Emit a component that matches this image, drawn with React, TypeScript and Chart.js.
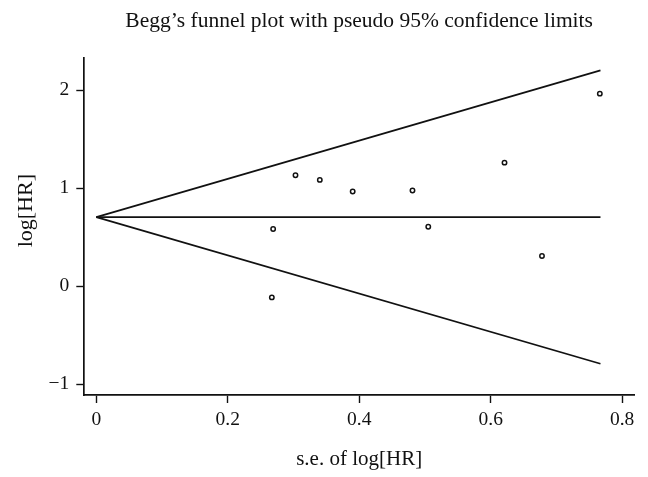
import React, { useEffect, useRef } from 'react';
import { Chart, registerables } from 'chart.js';

Chart.register(...registerables);

// Study estimates (s.e. of log[HR], log[HR])
const studySE = [0.267, 0.269, 0.303, 0.340, 0.390, 0.481, 0.505, 0.621, 0.678, 0.766];
const studyLogHR = [-0.115, 0.583, 1.132, 1.085, 0.966, 0.977, 0.607, 1.261, 0.308, 1.966];

// Pseudo 95% confidence limits and pooled estimate
const limitSE = [0, 0.767];
const pooledLogHR = [0.705, 0.705];
const upperLimit = [0.705, 2.204];
const lowerLimit = [0.705, -0.793];

// Axes
const xTicks = [0, 0.2, 0.4, 0.6, 0.8];
const yTicks = [-1, 0, 1, 2];
const titleText = 'Begg\u2019s funnel plot with pseudo 95% confidence limits';
const xTitle = 's.e. of log[HR]';
const yTitle = 'log[HR]';

const FONT = '"Liberation Serif", "DejaVu Serif", serif';
const INK = '#111111';

const toXY = (xs: number[], ys: number[]) => xs.map((x, i) => ({ x, y: ys[i] }));

const textPlugin = {
  id: 'customTexts',
  afterDraw(chart: any) {
    const { ctx, chartArea } = chart;
    ctx.save();
    ctx.fillStyle = INK;
    ctx.font = `21.5px ${FONT}`;
    ctx.textAlign = 'center';
    ctx.textBaseline = 'middle';
    ctx.fillText(titleText, (chartArea.left + chartArea.right) / 2, 21.5);
    ctx.font = `22px ${FONT}`;
    ctx.translate(26.7, chartArea.top + (chartArea.bottom - chartArea.top) * 0.453);
    ctx.rotate(-Math.PI / 2);
    ctx.fillText(yTitle, 0, 0);
    ctx.restore();
  },
};

export default function App() {
  const ref = useRef<HTMLCanvasElement>(null);

  useEffect(() => {
    if (!ref.current) return;
    const lineStyle = {
      showLine: true,
      pointRadius: 0,
      pointHoverRadius: 0,
      borderColor: INK,
      borderWidth: 1.7,
      fill: false,
      tension: 0,
    };
    const chart = new Chart(ref.current, {
      type: 'scatter',
      data: {
        datasets: [
          { label: 'upper', data: toXY(limitSE, upperLimit), ...lineStyle, order: 2 },
          { label: 'pooled', data: toXY(limitSE, pooledLogHR), ...lineStyle, order: 2 },
          { label: 'lower', data: toXY(limitSE, lowerLimit), ...lineStyle, order: 2 },
          {
            label: 'studies',
            data: toXY(studySE, studyLogHR),
            pointRadius: 2.2,
            pointBorderWidth: 1.5,
            pointBackgroundColor: '#ffffff',
            pointBorderColor: INK,
            showLine: false,
            order: 1,
          },
        ],
      },
      options: {
        animation: false,
        responsive: false,
        maintainAspectRatio: false,
        layout: { padding: { top: 58, right: 14, left: 0, bottom: 0 } },
        plugins: {
          legend: { display: false },
          title: { display: false },
          tooltip: { enabled: false },
        },
        scales: {
          x: {
            type: 'linear',
            min: -0.0183,
            max: 0.818,
            afterFit: (s: any) => { s.height = 82; },
            afterBuildTicks: (s: any) => { s.ticks = xTicks.map((v) => ({ value: v })); },
            grid: { drawOnChartArea: false, drawTicks: true, tickLength: 8, tickColor: INK, tickWidth: 1.4 },
            border: { display: true, color: INK, width: 1.7 },
            ticks: {
              color: INK,
              font: { family: FONT, size: 19.5 },
              padding: 5,
              maxRotation: 0,
              callback: (v: any) => String(v),
            },
            title: {
              display: true,
              text: xTitle,
              color: INK,
              font: { family: FONT, size: 21 },
              padding: { top: 0, bottom: 5 },
            },
          },
          y: {
            type: 'linear',
            min: -1.112,
            max: 2.33,
            afterFit: (s: any) => { s.width = 84.3; },
            afterBuildTicks: (s: any) => { s.ticks = yTicks.map((v) => ({ value: v })); },
            grid: { drawOnChartArea: false, drawTicks: true, tickLength: 8, tickColor: INK, tickWidth: 1.4 },
            border: { display: true, color: INK, width: 1.7 },
            ticks: {
              color: INK,
              font: { family: FONT, size: 19.5 },
              padding: 7,
              callback: (v: any) => (v < 0 ? '\u2212' + Math.abs(v) : String(v)),
            },
          },
        },
      },
      plugins: [textPlugin],
    });
    return () => chart.destroy();
  }, []);

  return (
    <div style={{ position: 'absolute', left: 0, top: 0, width: 648, height: 477, background: '#fff' }}>
      <canvas ref={ref} width={648} height={477} style={{ display: 'block' }} />
    </div>
  );
}
